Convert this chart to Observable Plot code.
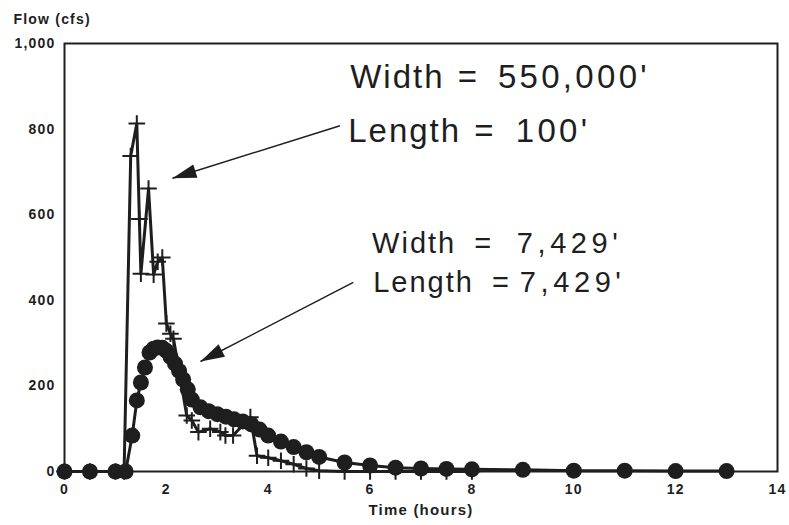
<!DOCTYPE html>
<html><head><meta charset="utf-8">
<script src="https://cdn.jsdelivr.net/npm/d3@7"></script>
<script src="https://cdn.jsdelivr.net/npm/@observablehq/plot@0.6"></script>
<style>
body{margin:0;background:#fff;}
#chart svg text{letter-spacing:1.2px;}
#chart g[aria-description="note-word-1"] text{letter-spacing:2px;word-spacing:2px;}
#chart g[aria-description="note-word-2"] text{letter-spacing:2px;word-spacing:8px;}
#chart g[aria-description="note-value-1"] text{letter-spacing:3.3px;}
#chart g[aria-description="note-value-2"] text{letter-spacing:4.6px;}
</style>
</head><body><div id="chart"></div>
<script>
// Series 1: Width = 550,000', Length = 100' (plus markers)
const plusTime = [0,0.5,1.0,1.17,1.3,1.42,1.47,1.5,1.65,1.75,1.83,1.92,2.0,2.08,2.14,2.4,2.5,2.63,2.86,3.06,3.16,3.31,3.65,3.78,4.0,4.25,4.5,4.75,5.0,5.5,6.0,6.5,7.0,7.5,8.0];
const plusFlow = [0,0,0,0,737,813,590,462,661,460,490,500,346,322,310,131,119,92,100,92,84,84,127,37,32,25,17,7,2,0,0,0,0,0,0];
// Series 2: Width = 7,429', Length = 7,429' (filled circles)
const dotTime = [0,0.5,1.0,1.2,1.33,1.42,1.5,1.58,1.67,1.75,1.83,1.92,2.0,2.08,2.17,2.25,2.33,2.42,2.5,2.67,2.83,3.0,3.17,3.33,3.5,3.67,3.83,4.0,4.25,4.5,4.75,5.0,5.5,6.0,6.5,7.0,7.5,8.0,9,10,11,12,13];
const dotFlow = [0,0,0,0,84,166,208,243,278,287,290,289,282,268,252,235,215,192,168,150,141,134,128,122,117,110,98,84,70,57,45,34,21,14,9,7,6,5,4,2,2,1,1];
// Axis ticks
const xTicks = [0,2,4,6,8,10,12,14];
const yTicks = [0,200,400,600,800,1000];
// Annotations (anchors in data units)
const note1Word = ["Width =", "Length ="];
const note1Value = ["550,000'", "100'"];
const note1WordX = [5.61, 5.57];
const note1ValueX = [8.51, 8.86];
const note1Y = [921, 795];
const note2Word = ["Width =", "Length ="];
const note2Value = ["7,429'", "7,429'"];
const note2WordX = [6.04, 6.06];
const note2ValueX = [8.88, 8.94];
const note2Y = [533, 440];
// Arrows: tail -> tip (data units)
const arrowX1 = [5.41, 5.67];
const arrowY1 = [808, 442];
const arrowX2 = [2.12, 2.67];
const arrowY2 = [685, 257];

const W = 789, H = 525, ML = 64, MR = 12, MT = 43, MB = 54;
const kx = (W - ML - MR) / 14, ky = (H - MT - MB) / 1000;
const arrowIdx = arrowX1.map((_, i) => i);
const headAngle = arrowIdx.map(i => Math.atan2(-(arrowY2[i] - arrowY1[i]) * ky, (arrowX2[i] - arrowX1[i]) * kx) * 180 / Math.PI);
const headSymbol = {draw(ctx) { ctx.moveTo(0, 0); ctx.lineTo(-24, -7); ctx.lineTo(-24, 7); ctx.closePath(); }};

const plusIdx = plusTime.map((_, i) => i);
const dotIdx = dotTime.map((_, i) => i);
const ink = "#1e1e1e";
const noteFont = {textAnchor: "start", fontWeight: "normal"};

const chart = Plot.plot({
  width: W, height: H, marginLeft: ML, marginRight: MR, marginTop: MT, marginBottom: MB,
  x: {domain: [0, 14]},
  y: {domain: [0, 1000]},
  style: {fontFamily: "'Liberation Sans', Arial, sans-serif", fontSize: "14px", fontWeight: "bold", color: ink, background: "#fff"},
  marks: [
    Plot.frame({stroke: ink, strokeWidth: 2}),
    Plot.axisX({ticks: xTicks, tickSize: 0, tickPadding: 13, label: null}),
    Plot.axisY({ticks: yTicks, tickSize: 0, tickPadding: 9, label: null}),
    Plot.line(plusIdx, {x: i => plusTime[i], y: i => plusFlow[i], stroke: ink, strokeWidth: 3}),
    Plot.dot(plusIdx, {x: i => plusTime[i], y: i => plusFlow[i], symbol: "plus", r: 5.4, stroke: ink, strokeWidth: 2}),
    Plot.line(dotIdx, {x: i => dotTime[i], y: i => dotFlow[i], stroke: ink, strokeWidth: 3}),
    Plot.dot(dotIdx, {x: i => dotTime[i], y: i => dotFlow[i], r: 8, fill: ink, stroke: "none"}),
    Plot.link(arrowIdx, {x1: i => arrowX1[i], y1: i => arrowY1[i], x2: i => arrowX2[i], y2: i => arrowY2[i], stroke: ink, strokeWidth: 1.5}),
    Plot.dot(arrowIdx, {x: i => arrowX2[i], y: i => arrowY2[i], symbol: headSymbol, rotate: i => headAngle[i], fill: ink, stroke: "none"}),
    Plot.text(note1Word, {...noteFont, x: (d, i) => note1WordX[i], y: (d, i) => note1Y[i], text: d => d, fontSize: 33, ariaDescription: "note-word-1"}),
    Plot.text(note1Value, {...noteFont, x: (d, i) => note1ValueX[i], y: (d, i) => note1Y[i], text: d => d, fontSize: 33, ariaDescription: "note-value-1"}),
    Plot.text(note2Word, {...noteFont, x: (d, i) => note2WordX[i], y: (d, i) => note2Y[i], text: d => d, fontSize: 29, ariaDescription: "note-word-2"}),
    Plot.text(note2Value, {...noteFont, x: (d, i) => note2ValueX[i], y: (d, i) => note2Y[i], text: d => d, fontSize: 29, ariaDescription: "note-value-2"}),
    Plot.text(["Flow (cfs)"], {frameAnchor: "top-left", dx: -51, dy: -29, textAnchor: "start", fontSize: 14}),
    Plot.text(["Time (hours)"], {frameAnchor: "bottom", dy: 43, fontSize: 15})
  ]
});
document.getElementById("chart").appendChild(chart);
</script>
</body></html>
